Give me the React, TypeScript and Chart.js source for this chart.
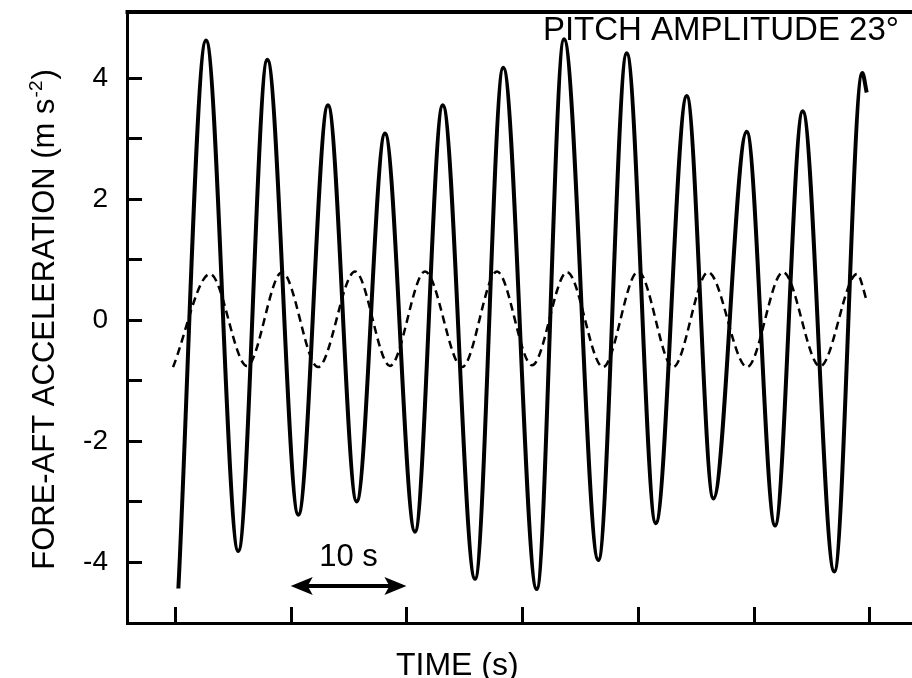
import React, { useEffect, useRef } from 'react';
import { Chart, registerables } from 'chart.js';

Chart.register(...registerables);

// Fore-aft acceleration (solid) : time in s, value in m s^-2
const SOLID_TIME = [0.29, 2.68, 5.47, 7.98, 10.66, 13.22, 15.70, 18.15, 20.74, 23.14, 25.93, 28.37, 31.26, 33.62, 36.59, 39.04, 41.55, 44.23, 46.53, 49.41, 51.86, 54.25, 56.98, 59.40, 59.78];
const SOLID_ACCEL = [-4.44, 4.62, -3.82, 4.30, -3.22, 3.55, -3.00, 3.08, -3.50, 3.55, -4.28, 4.17, -4.45, 4.64, -3.97, 4.41, -3.36, 3.70, -2.95, 3.11, -3.40, 3.45, -4.16, 4.08, 3.76];

// Dashed reference signal
const DASHED_TIME = [-0.17, 3.03, 6.22, 9.25, 12.36, 15.56, 18.58, 21.61, 24.81, 27.83, 30.86, 33.88, 36.99, 40.02, 43.04, 46.07, 49.44, 52.55, 55.75, 58.95, 59.81];
const DASHED_ACCEL = [-0.78, 0.76, -0.76, 0.79, -0.78, 0.80, -0.76, 0.80, -0.78, 0.80, -0.75, 0.79, -0.78, 0.80, -0.78, 0.79, -0.78, 0.79, -0.77, 0.76, 0.30];

const Y_TICK_MARKS = [-4, -3, -2, -1, 0, 1, 2, 3, 4];
const Y_TICK_LABELS = [-4, -2, 0, 2, 4];
const X_TICK_MARKS = [0, 10, 20, 30, 40, 50, 60];

const X_TITLE = 'TIME (s)';
const Y_TITLE_MAIN = 'FORE-AFT ACCELERATION (m s';
const Y_TITLE_SUP = '-2';
const Y_TITLE_END = ')';
const PANEL_NOTE = 'PITCH AMPLITUDE 23°';
const SCALE_BAR_TEXT = '10 s';
const SCALE_BAR_RANGE = [10, 20];

const FONT_FAMILY = '"Liberation Sans", Arial, Helvetica, sans-serif';

const annotationPlugin = {
  id: 'figureAnnotations',
  afterDraw(chart: any) {
    const { ctx, chartArea, scales } = chart;
    const xs = scales.x;
    const ys = scales.y;
    ctx.save();
    ctx.strokeStyle = '#000';
    ctx.fillStyle = '#000';
    ctx.lineCap = 'butt';

    // top frame line
    ctx.lineWidth = 4;
    ctx.beginPath();
    ctx.moveTo(chartArea.left - 1.5, chartArea.top);
    ctx.lineTo(chartArea.right, chartArea.top);
    ctx.stroke();

    // inward tick marks
    ctx.lineWidth = 3;
    for (const v of Y_TICK_MARKS) {
      const py = Math.round(ys.getPixelForValue(v)) + 0.5;
      ctx.beginPath();
      ctx.moveTo(chartArea.left, py);
      ctx.lineTo(chartArea.left + 15, py);
      ctx.stroke();
    }
    for (const v of X_TICK_MARKS) {
      const px = Math.round(xs.getPixelForValue(v)) + 0.5;
      ctx.beginPath();
      ctx.moveTo(px, chartArea.bottom);
      ctx.lineTo(px, chartArea.bottom - 16);
      ctx.stroke();
    }

    // scale bar arrow
    const ay = ys.getPixelForValue(-4.40);
    const ax1 = xs.getPixelForValue(SCALE_BAR_RANGE[0]);
    const ax2 = xs.getPixelForValue(SCALE_BAR_RANGE[1]);
    ctx.lineWidth = 4;
    ctx.beginPath();
    ctx.moveTo(ax1 + 14, ay);
    ctx.lineTo(ax2 - 14, ay);
    ctx.stroke();
    const head = (tip: number, dir: number) => {
      ctx.beginPath();
      ctx.moveTo(tip, ay);
      ctx.lineTo(tip + dir * 22, ay - 9);
      ctx.lineTo(tip + dir * 17, ay);
      ctx.lineTo(tip + dir * 22, ay + 9);
      ctx.closePath();
      ctx.fill();
    };
    head(ax1, 1);
    head(ax2, -1);

    ctx.textBaseline = 'alphabetic';
    ctx.textAlign = 'center';
    ctx.font = `31px ${FONT_FAMILY}`;
    ctx.fillText(SCALE_BAR_TEXT, xs.getPixelForValue((SCALE_BAR_RANGE[0] + SCALE_BAR_RANGE[1]) / 2), ys.getPixelForValue(-4.07));

    // panel note
    ctx.textAlign = 'right';
    ctx.font = `33px ${FONT_FAMILY}`;
    ctx.fillText(PANEL_NOTE, xs.getPixelForValue(62.57), ys.getPixelForValue(4.63));

    // x title
    ctx.textAlign = 'center';
    ctx.font = `32px ${FONT_FAMILY}`;
    ctx.fillText(X_TITLE, xs.getPixelForValue(24.4), chartArea.bottom + 52);

    // y title with superscript
    const mainFont = `31px ${FONT_FAMILY}`;
    const supFont = `19px ${FONT_FAMILY}`;
    ctx.font = mainFont;
    const w1 = ctx.measureText(Y_TITLE_MAIN).width;
    const w3 = ctx.measureText(Y_TITLE_END).width;
    ctx.font = supFont;
    const w2 = ctx.measureText(Y_TITLE_SUP).width + 2;
    const total = w1 + w2 + w3;
    const cx = chartArea.left - 73;
    const cy = (chartArea.top + chartArea.bottom) / 2 + 2;
    ctx.translate(cx, cy);
    ctx.rotate(-Math.PI / 2);
    ctx.textAlign = 'left';
    let sx = -total / 2;
    ctx.font = mainFont;
    ctx.fillText(Y_TITLE_MAIN, sx, 0);
    sx += w1;
    ctx.font = supFont;
    ctx.fillText(Y_TITLE_SUP, sx + 1, -12);
    sx += w2;
    ctx.font = mainFont;
    ctx.fillText(Y_TITLE_END, sx, 0);

    ctx.restore();
  },
};

export default function App() {
  const canvasRef = useRef<HTMLCanvasElement | null>(null);

  useEffect(() => {
    const canvas = canvasRef.current;
    if (!canvas) return;
    const chart = new Chart(canvas, {
      type: 'line',
      data: {
        datasets: [
          {
            data: SOLID_TIME.map((t, i) => ({ x: t, y: SOLID_ACCEL[i] })),
            borderColor: '#000',
            borderWidth: 4,
            pointRadius: 0,
            fill: false,
            cubicInterpolationMode: 'monotone',
          },
          {
            data: DASHED_TIME.map((t, i) => ({ x: t, y: DASHED_ACCEL[i] })),
            borderColor: '#000',
            borderWidth: 2.5,
            borderDash: [8, 5],
            pointRadius: 0,
            fill: false,
            cubicInterpolationMode: 'monotone',
          },
        ],
      },
      options: {
        animation: false,
        responsive: true,
        maintainAspectRatio: false,
        layout: { padding: { top: 12, left: 0, right: 0, bottom: 0 } },
        plugins: { legend: { display: false }, tooltip: { enabled: false } },
        scales: {
          x: {
            type: 'linear',
            min: -4.15,
            max: 65.25,
            grid: { display: false, drawTicks: false },
            border: { display: true, width: 3, color: '#000' },
            ticks: { display: false },
            afterFit(scale: any) {
              scale.height = 55;
              scale.paddingLeft = 0;
              scale.paddingRight = 0;
            },
          },
          y: {
            type: 'linear',
            min: -5.01,
            max: 5.09,
            grid: { display: false, drawTicks: false },
            border: { display: true, width: 3, color: '#000' },
            ticks: {
              color: '#000',
              padding: 19,
              font: { family: FONT_FAMILY, size: 28 },
              callback: (v: any) => String(v),
            },
            afterBuildTicks(scale: any) {
              scale.ticks = Y_TICK_LABELS.map((v) => ({ value: v }));
            },
            afterFit(scale: any) {
              scale.width = 127;
              scale.paddingTop = 0;
              scale.paddingBottom = 0;
            },
          },
        },
      },
      plugins: [annotationPlugin],
    } as any);
    return () => chart.destroy();
  }, []);

  return (
    <div style={{ position: 'fixed', left: 0, top: 0, width: 912, height: 678, overflow: 'hidden', background: '#fff' }}>
      <div style={{ position: 'absolute', left: 0, top: 0, width: 930, height: 678 }}>
        <canvas ref={canvasRef} />
      </div>
    </div>
  );
}
